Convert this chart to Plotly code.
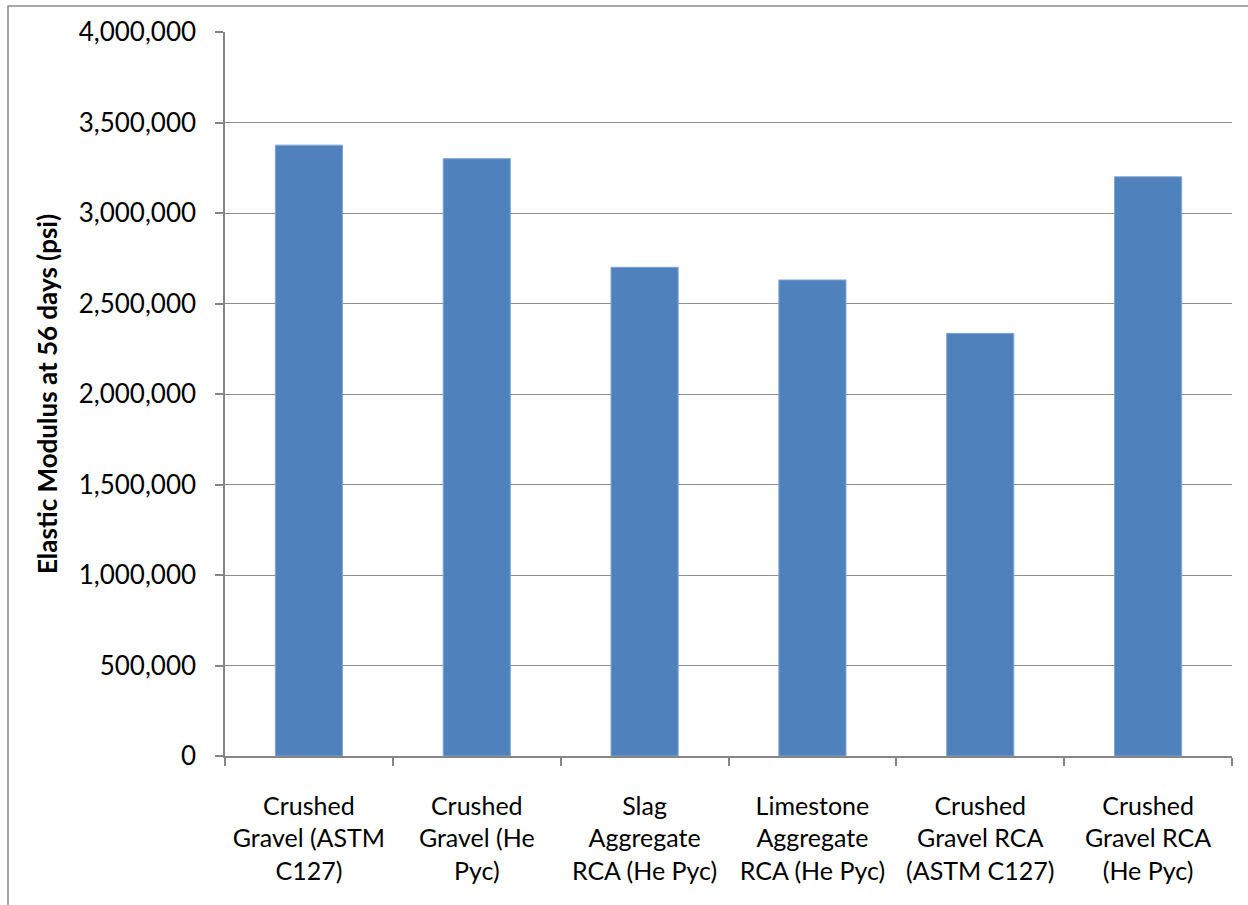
import plotly.graph_objects as go

# Aggregate types (category labels, wrapped over three lines)
categories = [
    "Crushed<br>Gravel (ASTM<br>C127)",
    "Crushed<br>Gravel (He<br>Pyc)",
    "Slag<br>Aggregate<br>RCA (He Pyc)",
    "Limestone<br>Aggregate<br>RCA (He Pyc)",
    "Crushed<br>Gravel RCA<br>(ASTM C127)",
    "Crushed<br>Gravel RCA<br>(He Pyc)",
]

# Elastic modulus at 56 days, psi
modulus_psi = [3375000, 3300000, 2700000, 2630000, 2335000, 3200000]

# Y axis ticks
y_ticks = [0, 500000, 1000000, 1500000, 2000000, 2500000, 3000000, 3500000, 4000000]
y_tick_text = ["0", "500,000", "1,000,000", "1,500,000", "2,000,000",
               "2,500,000", "3,000,000", "3,500,000", "4,000,000"]

FONT = "Lato, Carlito, Calibri, sans-serif"
GRID = "#8c8c8c"
AXIS = "#868686"

fig = go.Figure(
    go.Bar(
        x=categories,
        y=modulus_psi,
        marker=dict(color="#4F81BD", line=dict(color="#7fa6d6", width=1)),
        hoverinfo="x+y",
    )
)

fig.update_layout(
    width=1248,
    height=905,
    margin=dict(l=225, r=16, t=32, b=149),
    paper_bgcolor="white",
    plot_bgcolor="white",
    bargap=0.6,
    showlegend=False,
    font=dict(family=FONT, size=24, color="black"),
    shapes=[
        # outer chart-area border
        dict(
            type="rect", xref="paper", yref="paper",
            x0=(8 - 225) / 1007, x1=(1262 - 225) / 1007,
            y0=-(925 - 756) / 724, y1=1 + (32 - 6) / 724,
            line=dict(color="#8a8a8a", width=1.5),
            fillcolor="rgba(0,0,0,0)", layer="below",
        )
    ],
)

fig.update_xaxes(
    type="category",
    automargin=False,
    tickangle=0,
    showline=True,
    linecolor=AXIS,
    linewidth=1.5,
    ticks="outside",
    tickson="boundaries",
    ticklen=8,
    tickcolor=AXIS,
    tickwidth=1.5,
    showgrid=False,
    tickfont=dict(family=FONT, size=25, color="black"),
    ticklabelstandoff=27,
)

fig.update_yaxes(
    automargin=False,
    range=[0, 4000000],
    tickvals=y_ticks,
    ticktext=y_tick_text,
    showline=True,
    linecolor=AXIS,
    linewidth=1.5,
    ticks="outside",
    ticklen=8,
    tickcolor=AXIS,
    tickwidth=1.5,
    showgrid=True,
    gridcolor=GRID,
    gridwidth=1,
    zeroline=False,
    tickfont=dict(family=FONT, size=26, color="black"),
    ticklabelstandoff=14,
    title=dict(
        text="<b>Elastic Modulus at 56 days (psi)</b>",
        font=dict(family=FONT, size=26, color="black"),
        standoff=14,
    ),
)

fig.write_html("out.html")
